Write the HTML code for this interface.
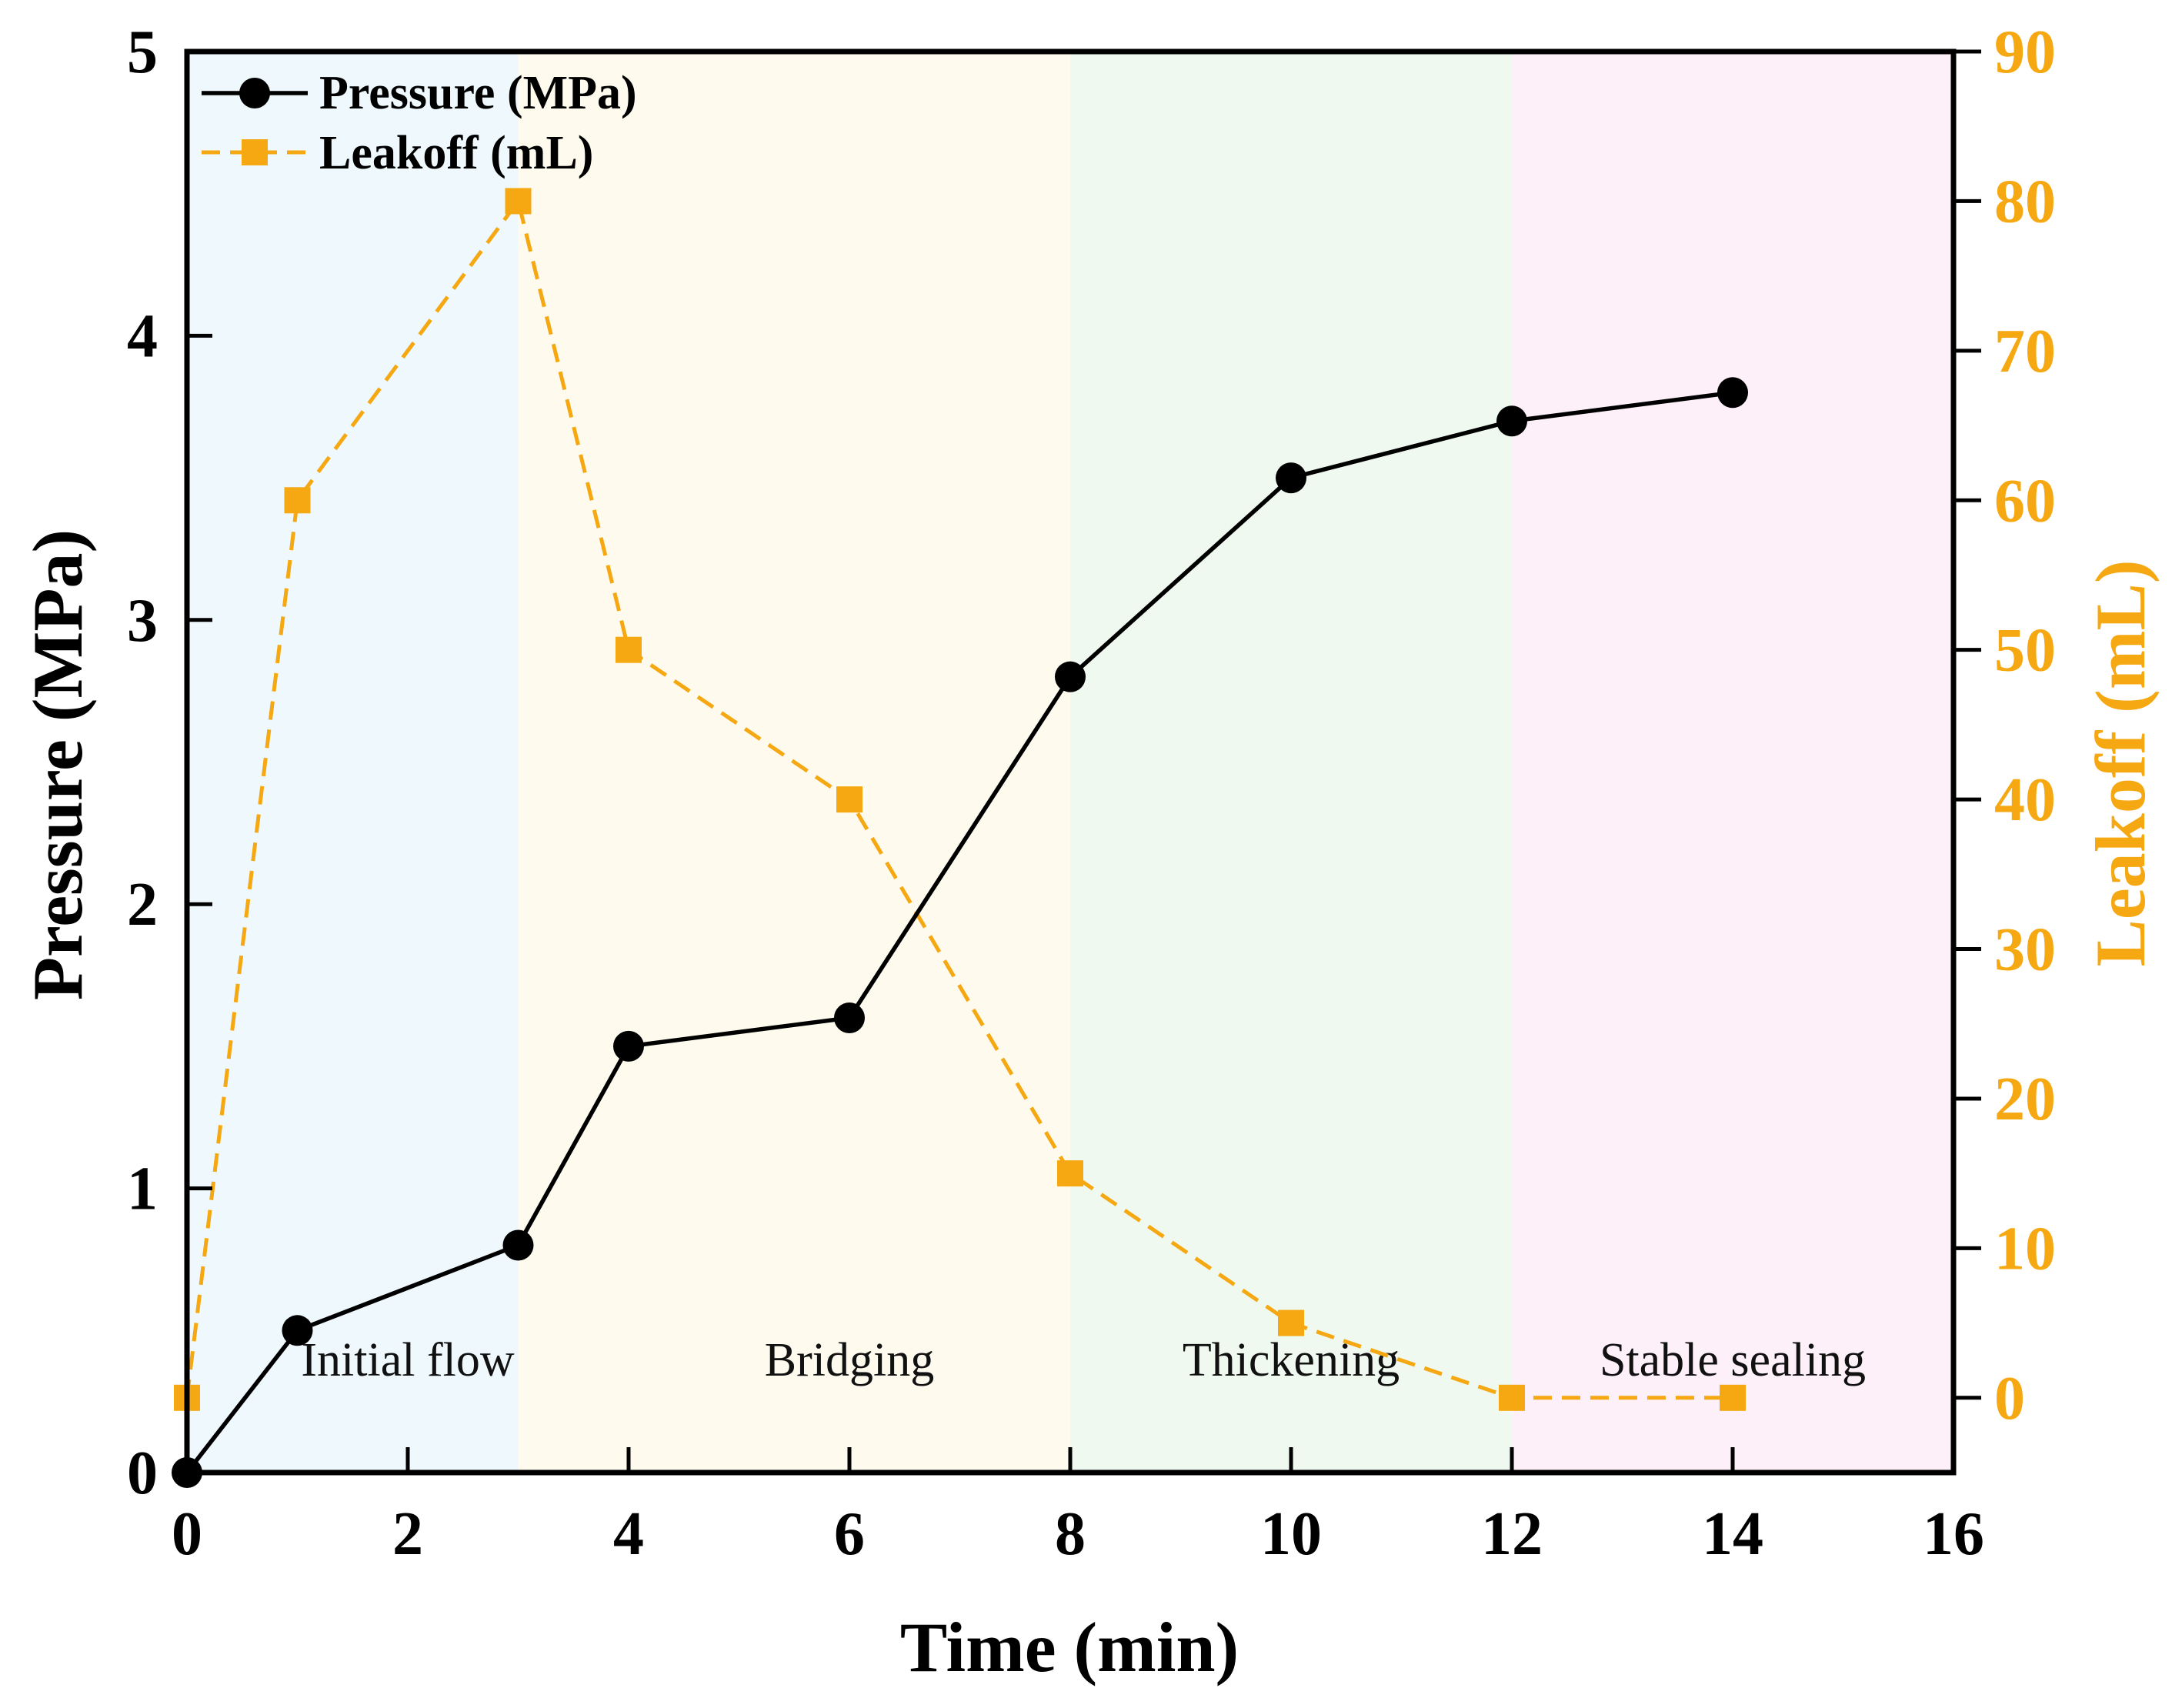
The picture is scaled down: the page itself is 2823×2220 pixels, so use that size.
<!DOCTYPE html>
<html><head><meta charset="utf-8"><style>
html,body{margin:0;padding:0;background:#fff;}
svg{display:block;font-family:"Liberation Serif",serif;}
</style></head><body>
<svg id="chart" width="2823" height="2220" viewBox="0 0 2823 2220" xmlns="http://www.w3.org/2000/svg">
<g id="bg"></g><g id="series"></g><g id="axes"></g>
</svg>
<script>
const times = [0, 1, 3, 4, 6, 8, 10, 12, 14];
const pressure = [0, 0.5, 0.8, 1.5, 1.6, 2.8, 3.5, 3.7, 3.8];
const leakoff = [0, 60, 80, 50, 40, 15, 5, 0, 0];
const xTicks = [0, 2, 4, 6, 8, 10, 12, 14, 16];
const yLeftTicks = [0, 1, 2, 3, 4, 5];
const yRightTicks = [0, 10, 20, 30, 40, 50, 60, 70, 80, 90];
const phaseStarts = [0, 3, 8, 12];
const phaseEnds = [3, 8, 12, 16];
const phaseLabels = ["Initial flow", "Bridging", "Thickening", "Stable sealing"];
const phaseLabelX = [2, 6, 10, 14];
const phaseColors = ["#eef8fd", "#fefbee", "#eff9ef", "#fdf0f8"];

const L = 243, R = 2539, T = 67, B = 1914;
const X = v => L + v / 16 * (R - L);
const YL = v => B - v / 5 * (B - T);
const YR = v => B - (v + 5) / 95 * (B - T);
const NS = "http://www.w3.org/2000/svg";
function mk(tag, attrs, parent, text) {
  const e = document.createElementNS(NS, tag);
  for (const k in attrs) e.setAttribute(k, attrs[k]);
  if (text !== undefined) e.textContent = text;
  parent.appendChild(e); return e;
}
const bg = document.getElementById('bg'), ser = document.getElementById('series'), ax = document.getElementById('axes');
const ORANGE = "#f5a811";

phaseStarts.forEach((s, i) => {
  const r = mk('rect', {x: X(s), y: T, width: X(phaseEnds[i]) - X(s), height: B - T, fill: phaseColors[i]}, bg);
  
  
  const t = mk('text', {x: X(phaseLabelX[i]), y: 1788, 'font-size': 62, 'text-anchor': 'middle', fill: '#111'}, bg, phaseLabels[i]);
  
  
});

const lk = mk('polyline', {points: times.map((t, i) => X(t) + ',' + YR(leakoff[i])).join(' '), fill: 'none', stroke: ORANGE, 'stroke-width': 5, 'stroke-dasharray': '24,13'}, ser);


times.forEach((t, i) => {
  const m = mk('rect', {x: X(t) - 17, y: YR(leakoff[i]) - 17, width: 34, height: 34, fill: ORANGE}, ser);
  
  
});
const pl = mk('polyline', {points: times.map((t, i) => X(t) + ',' + YL(pressure[i])).join(' '), fill: 'none', stroke: '#000', 'stroke-width': 5.5}, ser);


times.forEach((t, i) => {
  const c = mk('circle', {cx: X(t), cy: YL(pressure[i]), r: 20, fill: '#000'}, ser);
  
  
});

const fr = mk('rect', {x: L, y: T, width: R - L, height: B - T, fill: 'none', stroke: '#000', 'stroke-width': 7}, ax);



xTicks.forEach(v => {
  const tk = mk('line', {x1: X(v), x2: X(v), y1: B, y2: B - 33, stroke: '#000', 'stroke-width': 5}, ax);
  
  
  const lb = mk('text', {x: X(v), y: 2020, 'font-size': 80, 'font-weight': 'bold', 'text-anchor': 'middle'}, ax, v);
  
  
});
yLeftTicks.forEach(v => {
  const tk = mk('line', {x1: L, x2: L + 33, y1: YL(v), y2: YL(v), stroke: '#000', 'stroke-width': 5}, ax);
  
  
  const lb = mk('text', {x: 205, y: YL(v) + 27, 'font-size': 80, 'font-weight': 'bold', 'text-anchor': 'end'}, ax, v);
  
  
});
yRightTicks.forEach(v => {
  const tk = mk('line', {x1: R, x2: R + 36, y1: YR(v), y2: YR(v), stroke: '#000', 'stroke-width': 5}, ax);
  
  
  const lb = mk('text', {x: 2592, y: YR(v) + 27, 'font-size': 80, 'font-weight': 'bold', fill: ORANGE}, ax, v);
  
  
});

const xt = mk('text', {x: 1390, y: 2172, 'font-size': 92, 'font-weight': 'bold', 'text-anchor': 'middle'}, ax, 'Time (min)');


const yt = mk('text', {x: 0, y: 0, 'font-size': 92, 'font-weight': 'bold', 'text-anchor': 'middle', transform: 'translate(106,994) rotate(-90)'}, ax, 'Pressure (MPa)');


const yr = mk('text', {x: 0, y: 0, 'font-size': 92, 'font-weight': 'bold', 'text-anchor': 'middle', fill: ORANGE, transform: 'translate(2787,992) rotate(-90)'}, ax, 'Leakoff (mL)');



const lg = mk('g', {}, ax);


mk('line', {x1: 262, x2: 400, y1: 121, y2: 121, stroke: '#000', 'stroke-width': 5.5}, lg);
mk('circle', {cx: 331, cy: 121, r: 20, fill: '#000'}, lg);
const l1 = mk('text', {x: 415, y: 141, 'font-size': 62, 'font-weight': 'bold'}, lg, 'Pressure (MPa)');


mk('line', {x1: 262, x2: 400, y1: 198, y2: 198, stroke: ORANGE, 'stroke-width': 5, 'stroke-dasharray': '24,13'}, lg);
mk('rect', {x: 314, y: 181, width: 34, height: 34, fill: ORANGE}, lg);
const l2 = mk('text', {x: 415, y: 219, 'font-size': 62, 'font-weight': 'bold'}, lg, 'Leakoff (mL)');


</script>
</body></html>
